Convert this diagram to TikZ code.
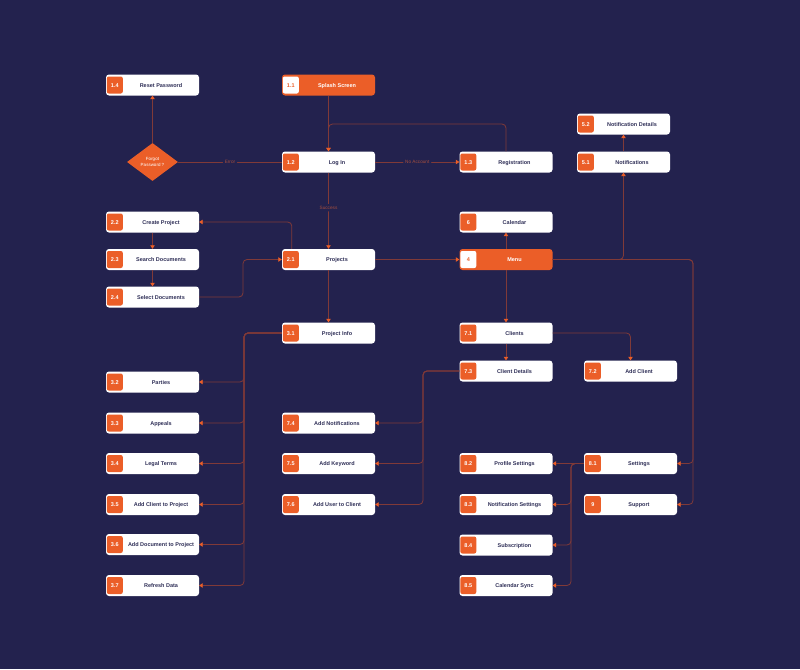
\documentclass[tikz,border=0pt]{standalone}
\usepackage{fontspec}
\setmainfont{Liberation Sans}
\usetikzlibrary{arrows.meta,shapes.geometric}
\definecolor{bg}{RGB}{35,34,78}
\definecolor{org}{RGB}{235,94,40}
\definecolor{linec}{RGB}{128,58,56}
\definecolor{lblc}{RGB}{165,78,62}
\definecolor{ink}{RGB}{48,48,88}
\tikzset{
  box/.style={rectangle, rounded corners=3pt, minimum width=93pt, minimum height=21pt, inner sep=0pt, fill=white},
  obox/.style={box, fill=org},
  badge/.style={rectangle, rounded corners=2pt, minimum width=16pt, minimum height=17pt, inner sep=0pt, fill=org, text=white, text height=4pt, text depth=0pt, font=\bfseries\fontsize{5.5}{6}\selectfont},
  wbadge/.style={badge, fill=white, text=org},
  txt/.style={inner sep=0pt, text=ink, text height=4pt, text depth=0pt, font=\bfseries\fontsize{5.5}{6}\selectfont},
  wtxt/.style={txt, text=white},
  conn/.style={draw=linec, line width=0.8pt, rounded corners=4pt, -{Triangle[width=4.5pt,length=3.5pt,color=org]}},
  plain/.style={draw=linec, line width=0.8pt, rounded corners=4pt},
  lbl/.style={fill=bg, inner sep=2pt, text=lblc, font=\fontsize{4.7}{5}\selectfont},
}
\newcommand\wbox[5]{%
  \node[box] (#1) at (#2,#3) {};
  \node[badge] (#1b) at ([xshift=9pt]#1.west) {#4};
  \node[txt] (#1t) at ([xshift=8.5pt]#1.center) {#5};
}
\newcommand\obox[5]{%
  \node[obox] (#1) at (#2,#3) {};
  \node[wbadge] (#1b) at ([xshift=9pt]#1.west) {#4};
  \node[wtxt] (#1t) at ([xshift=8.5pt]#1.center) {#5};
}
\begin{document}
\begin{tikzpicture}[x=1pt,y=-1pt]
\fill[bg] (0,0) rectangle (800,669);
\useasboundingbox (0,0) rectangle (800,669);

% nodes
\wbox{n14}{152.5}{85}{1.4}{Reset Password}
\obox{n11}{328.5}{85}{1.1}{Splash Screen}
\wbox{n52}{623.5}{124}{5.2}{Notification Details}
\wbox{n12}{328.5}{162}{1.2}{Log In}
\wbox{n13}{506}{162}{1.3}{Registration}
\wbox{n51}{623.5}{162}{5.1}{Notifications}
\node[diamond, fill=org, minimum width=51pt, minimum height=38pt, inner sep=0pt, text=white, align=center, font=\fontsize{4.5}{5.2}\selectfont] (dia) at (152.5,162) {Forgot\\Password ?};
\wbox{n22}{152.5}{222}{2.2}{Create Project}
\wbox{n6}{506}{222}{6}{Calendar}
\wbox{n23}{152.5}{259.5}{2.3}{Search Documents}
\wbox{n21}{328.5}{259.5}{2.1}{Projects}
\obox{n4}{506}{259.5}{4}{Menu}
\wbox{n24}{152.5}{297}{2.4}{Select Documents}
\wbox{n31}{328.5}{333}{3.1}{Project Info}
\wbox{n71}{506}{333}{7.1}{Clients}
\wbox{n32}{152.5}{382}{3.2}{Parties}
\wbox{n73}{506}{371}{7.3}{Client Details}
\wbox{n72}{630.5}{371}{7.2}{Add Client}
\wbox{n33}{152.5}{423}{3.3}{Appeals}
\wbox{n74}{328.5}{423}{7.4}{Add Notifications}
\wbox{n34}{152.5}{463.5}{3.4}{Legal Terms}
\wbox{n75}{328.5}{463.5}{7.5}{Add Keyword}
\wbox{n82}{506}{463.5}{8.2}{Profile Settings}
\wbox{n81}{630.5}{463.5}{8.1}{Settings}
\wbox{n35}{152.5}{504.5}{3.5}{Add Client to Project}
\wbox{n76}{328.5}{504.5}{7.6}{Add User to Client}
\wbox{n83}{506}{504.5}{8.3}{Notification Settings}
\wbox{n9}{630.5}{504.5}{9}{Support}
\wbox{n36}{152.5}{544.5}{3.6}{Add Document to Project}
\wbox{n84}{506}{545}{8.4}{Subscription}
\wbox{n37}{152.5}{585.5}{3.7}{Refresh Data}
\wbox{n85}{506}{585.5}{8.5}{Calendar Sync}

% helper coordinates
\coordinate (r1) at (328.5,124);
\coordinate (c1) at (243,0);
\coordinate (c2) at (244,0);
\coordinate (c3) at (423,0);
\coordinate (c4) at (571,0);
\coordinate (c5) at (693,0);

% connectors
\draw[conn] (n11.south) -- (n12.north);
\draw[conn] (n13.north) |- (r1) -- (n12.north);
\draw[conn] (n12.east) -- node[lbl]{No Account} (n13.west);
\draw[plain] (n12.west) -- node[lbl]{Error} (dia.east);
\draw[conn] (dia.north) -- (n14.south);
\draw[conn] (n12.south) -- node[lbl, pos=0.46]{Success} (n21.north);
\draw[conn] ([xshift=10pt]n21.north west) |- (n22.east);
\draw[conn] (n22.south) -- (n23.north);
\draw[conn] (n23.south) -- (n24.north);
\draw[conn] (n24.east) -- (n24.east -| c1) -- (c1 |- n21.west) -- (n21.west);
\draw[conn] (n21.east) -- (n4.west);
\draw[conn] (n4.north) -- (n6.south);
\draw[conn] (n4.east) -| (n51.south);
\draw[conn] (n51.north) -- (n52.south);
\draw[conn] (n4.east) -- (n4.east -| c5) -- (c5 |- n81.east) -- (n81.east);
\draw[conn] (n4.east) -- (n4.east -| c5) -- (c5 |- n9.east) -- (n9.east);
\draw[conn] (n4.south) -- (n71.north);
\draw[conn] (n71.south) -- (n73.north);
\draw[conn] (n71.east) -| (n72.north);
\draw[conn] (n21.south) -- (n31.north);
\foreach \t in {n32,n33,n34,n35,n36,n37}{
  \draw[conn] (n31.west) -- (n31.west -| c2) -- (c2 |- \t.east) -- (\t.east);
}
\foreach \t in {n74,n75,n76}{
  \draw[conn] (n73.west) -- (n73.west -| c3) -- (c3 |- \t.east) -- (\t.east);
}
\draw[conn] (n81.west) -- (n82.east);
\foreach \t in {n83,n84,n85}{
  \draw[conn] (n81.west) -- (n81.west -| c4) -- (c4 |- \t.east) -- (\t.east);
}
\end{tikzpicture}
\end{document}
